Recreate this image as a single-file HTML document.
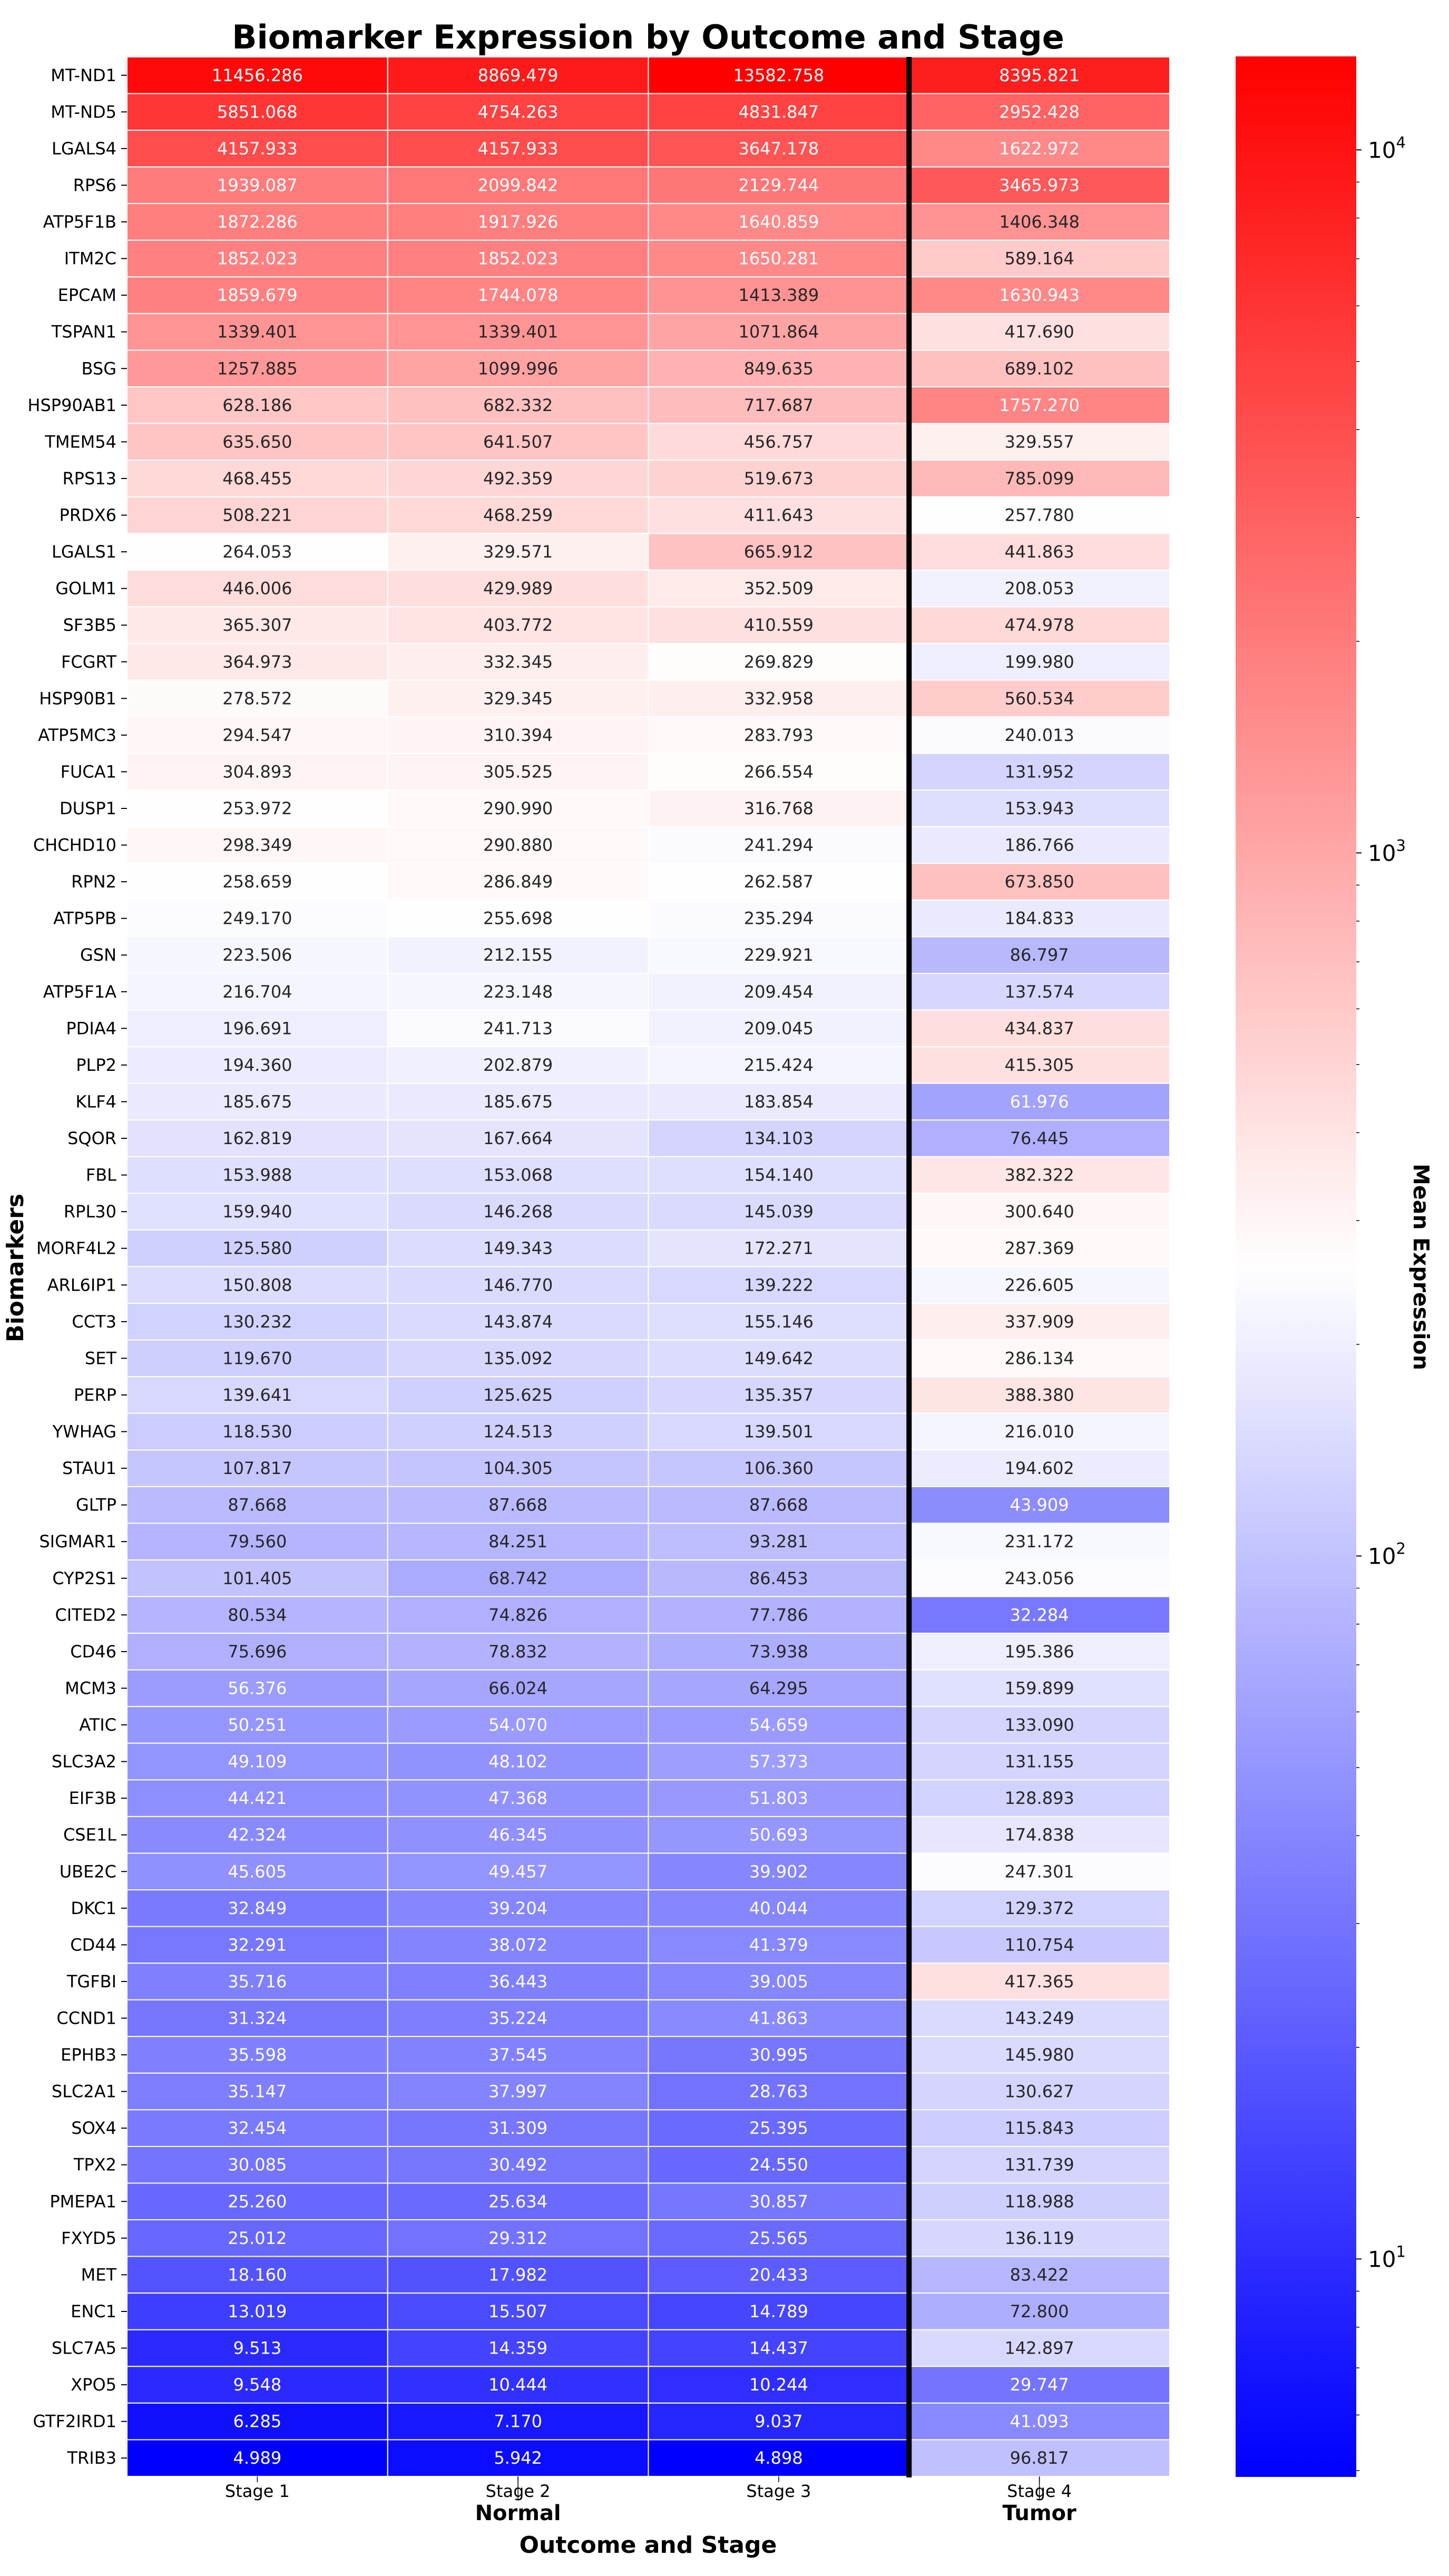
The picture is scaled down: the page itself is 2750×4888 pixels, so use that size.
<!DOCTYPE html>
<html><head><meta charset="utf-8">
<style>
html,body{margin:0;padding:0;background:#fff;}
svg{display:block;font-family:"DejaVu Sans","Liberation Sans",sans-serif;}
</style></head>
<body>
<svg id="chart" width="2750" height="4888" viewBox="0 0 2750 4888" xmlns="http://www.w3.org/2000/svg">
<text x="1230" y="92" font-size="62" font-weight="bold" text-anchor="middle">Biomarker Expression by Outcome and Stage</text>
<g id="cells"></g>
<g id="axes"></g>
<g id="cbar"></g>
<text x="1230" y="4844" font-size="44" font-weight="bold" text-anchor="middle">Outcome and Stage</text>
<text transform="translate(44,2406) rotate(-90)" font-size="44" font-weight="bold" text-anchor="middle">Biomarkers</text>
<text transform="translate(2683,2404) rotate(90)" font-size="41" font-weight="bold" text-anchor="middle">Mean Expression</text>
</svg>
<script>
const genes = ["MT-ND1","MT-ND5","LGALS4","RPS6","ATP5F1B","ITM2C","EPCAM","TSPAN1","BSG","HSP90AB1","TMEM54","RPS13","PRDX6","LGALS1","GOLM1","SF3B5","FCGRT","HSP90B1","ATP5MC3","FUCA1","DUSP1","CHCHD10","RPN2","ATP5PB","GSN","ATP5F1A","PDIA4","PLP2","KLF4","SQOR","FBL","RPL30","MORF4L2","ARL6IP1","CCT3","SET","PERP","YWHAG","STAU1","GLTP","SIGMAR1","CYP2S1","CITED2","CD46","MCM3","ATIC","SLC3A2","EIF3B","CSE1L","UBE2C","DKC1","CD44","TGFBI","CCND1","EPHB3","SLC2A1","SOX4","TPX2","PMEPA1","FXYD5","MET","ENC1","SLC7A5","XPO5","GTF2IRD1","TRIB3"];
const stageLabels = ["Stage 1","Stage 2","Stage 3","Stage 4"];
const groupLabels = ["Normal","Tumor"];
const stage1 = [11456.286,5851.068,4157.933,1939.087,1872.286,1852.023,1859.679,1339.401,1257.885,628.186,635.650,468.455,508.221,264.053,446.006,365.307,364.973,278.572,294.547,304.893,253.972,298.349,258.659,249.170,223.506,216.704,196.691,194.360,185.675,162.819,153.988,159.940,125.580,150.808,130.232,119.670,139.641,118.530,107.817,87.668,79.560,101.405,80.534,75.696,56.376,50.251,49.109,44.421,42.324,45.605,32.849,32.291,35.716,31.324,35.598,35.147,32.454,30.085,25.260,25.012,18.160,13.019,9.513,9.548,6.285,4.989];
const stage2 = [8869.479,4754.263,4157.933,2099.842,1917.926,1852.023,1744.078,1339.401,1099.996,682.332,641.507,492.359,468.259,329.571,429.989,403.772,332.345,329.345,310.394,305.525,290.990,290.880,286.849,255.698,212.155,223.148,241.713,202.879,185.675,167.664,153.068,146.268,149.343,146.770,143.874,135.092,125.625,124.513,104.305,87.668,84.251,68.742,74.826,78.832,66.024,54.070,48.102,47.368,46.345,49.457,39.204,38.072,36.443,35.224,37.545,37.997,31.309,30.492,25.634,29.312,17.982,15.507,14.359,10.444,7.170,5.942];
const stage3 = [13582.758,4831.847,3647.178,2129.744,1640.859,1650.281,1413.389,1071.864,849.635,717.687,456.757,519.673,411.643,665.912,352.509,410.559,269.829,332.958,283.793,266.554,316.768,241.294,262.587,235.294,229.921,209.454,209.045,215.424,183.854,134.103,154.140,145.039,172.271,139.222,155.146,149.642,135.357,139.501,106.360,87.668,93.281,86.453,77.786,73.938,64.295,54.659,57.373,51.803,50.693,39.902,40.044,41.379,39.005,41.863,30.995,28.763,25.395,24.550,30.857,25.565,20.433,14.789,14.437,10.244,9.037,4.898];
const stage4 = [8395.821,2952.428,1622.972,3465.973,1406.348,589.164,1630.943,417.690,689.102,1757.270,329.557,785.099,257.780,441.863,208.053,474.978,199.980,560.534,240.013,131.952,153.943,186.766,673.850,184.833,86.797,137.574,434.837,415.305,61.976,76.445,382.322,300.640,287.369,226.605,337.909,286.134,388.380,216.010,194.602,43.909,231.172,243.056,32.284,195.386,159.899,133.090,131.155,128.893,174.838,247.301,129.372,110.754,417.365,143.249,145.980,130.627,115.843,131.739,118.988,136.119,83.422,72.800,142.897,29.747,41.093,96.817];
const cbarExponents = [1,2,3,4];

const NS="http://www.w3.org/2000/svg";
const series=[stage1,stage2,stage3,stage4];
const X0=241,X1=2220,Y0=108,Y1=4699;
const colW=(X1-X0)/series.length, rowH=(Y1-Y0)/genes.length;
const all=[].concat(...series);
const vmin=Math.min(...all), vmax=Math.max(...all);
const lmin=Math.log10(vmin), lmax=Math.log10(vmax);
function norm(v){return (Math.log10(v)-lmin)/(lmax-lmin);}
function bwr(t){t=Math.max(0,Math.min(1,t));t=Math.floor(t*255.999)/255;
 let r,g,b; if(t<0.5){const s=t/0.5;r=s;g=s;b=1;}else{const s=(t-0.5)/0.5;r=1;g=1-s;b=1-s;} return [r,g,b];}
function hex(c){return 'rgb('+c.map(x=>Math.round(x*255)).join(',')+')';}
function lum(c){const l=c.map(x=>x<=0.03928?x/12.92:Math.pow((x+0.055)/1.055,2.4));return 0.2126*l[0]+0.7152*l[1]+0.0722*l[2];}
function mk(tag,attrs,parent){const e=document.createElementNS(NS,tag);for(const k in attrs)e.setAttribute(k,attrs[k]);parent.appendChild(e);return e;}
const cells=document.getElementById('cells'), axes=document.getElementById('axes'), cbar=document.getElementById('cbar');
const xCenter=j=>X0+(j+0.5)*colW, yCenter=i=>Y0+(i+0.5)*rowH;

series.forEach((arr,j)=>{arr.forEach((v,i)=>{
 const c=bwr(norm(v));
 const r=mk('rect',{x:X0+j*colW,y:Y0+i*rowH,width:colW,height:rowH,fill:hex(c),stroke:'#fff','stroke-width':2},cells);
 
 
 const t=mk('text',{x:xCenter(j),y:yCenter(i)+11,'font-size':32,'text-anchor':'middle',fill:lum(c)>0.408?'#262626':'#fff'},cells);
 
 
 t.textContent=v.toFixed(3);
});});
const sep=mk('line',{x1:X0+3*colW,x2:X0+3*colW,y1:Y0,y2:Y1+2,stroke:'#000','stroke-width':10},axes);



genes.forEach((g,i)=>{
 mk('line',{x1:230,x2:241,y1:yCenter(i),y2:yCenter(i),stroke:'#000','stroke-width':2},axes);
 const t=mk('text',{x:221,y:yCenter(i)+11,'font-size':32,'text-anchor':'end'},axes);
 
 
 t.textContent=g;
});
stageLabels.forEach((s,j)=>{
 mk('line',{x1:xCenter(j),x2:xCenter(j),y1:Y1,y2:Y1+11,stroke:'#000','stroke-width':1.5},axes);
 const t=mk('text',{x:xCenter(j),y:4738,'font-size':32,'text-anchor':'middle'},axes);
 
 
 t.textContent=s;
});
const groupX=[X0+1.5*colW, xCenter(3)];
groupLabels.forEach((g,k)=>{
 mk('line',{x1:groupX[k],x2:groupX[k],y1:Y1,y2:Y1+45,stroke:'#000','stroke-width':1.5},axes);
 const t=mk('text',{x:groupX[k],y:4782,'font-size':40,'font-weight':'bold','text-anchor':'middle'},axes);
 
 
 t.textContent=g;
});

const CX0=2345,CX1=2574,CY0=107,CY1=4700;
const defs=mk('defs',{},cbar);
const grad=mk('linearGradient',{id:'cg',x1:0,y1:1,x2:0,y2:0},defs);
for(let k=0;k<=20;k++){mk('stop',{offset:k/20,'stop-color':hex(bwr(k/20))},grad);}
const cb=mk('rect',{x:CX0,y:CY0,width:CX1-CX0,height:CY1-CY0,fill:'url(#cg)'},cbar);


const cy=v=>CY1-norm(v)*(CY1-CY0);
for(let d=0;d<=4;d++){for(let m=1;m<=9;m++){const v=m*Math.pow(10,d);if(v<vmin||v>vmax)continue;
 mk('line',{x1:CX1,x2:CX1+(m===1?10:6),y1:cy(v),y2:cy(v),stroke:'#000','stroke-width':m===1?2:1.5},cbar);}}
cbarExponents.forEach(e=>{
 const t=mk('text',{x:2596,y:cy(Math.pow(10,e))+15,'font-size':42},cbar);
 
 
 t.textContent='10';
 const s=mk('tspan',{dy:-19,'font-size':29},t);
 s.textContent=String(e);
});
</script>
</body></html>
